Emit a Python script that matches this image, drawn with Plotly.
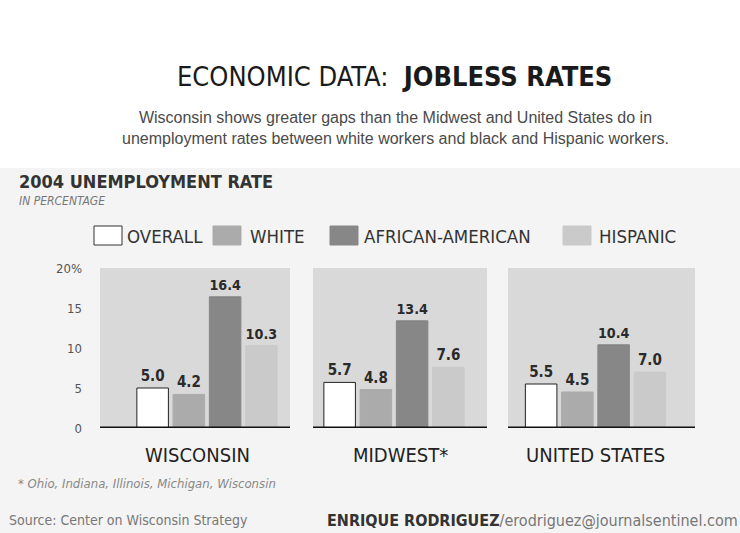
import plotly.graph_objects as go
from plotly.subplots import make_subplots

# ---- data ----
regions = ["WISCONSIN", "MIDWEST*", "UNITED STATES"]
series_names = ["OVERALL", "WHITE", "AFRICAN-AMERICAN", "HISPANIC"]
overall = [5.0, 5.7, 5.5]
white = [4.2, 4.8, 4.5]
african_american = [16.4, 13.4, 10.4]
hispanic = [10.3, 7.6, 7.0]
y_ticks = [0, 5, 10, 15, 20]
y_ticktext = ["0", "5", "10", "15", "20%"]

series_values = [overall, white, african_american, hispanic]
series_colors = ["#ffffff", "#ababab", "#878787", "#cacaca"]
series_lines = ["#222222", "#ababab", "#878787", "#cacaca"]

W, H = 740, 533
COND = "DejaVu Sans Condensed, Roboto, sans-serif"
SANS = "Liberation Sans, Arial, sans-serif"

def px(x):
    return x / W

def py(y):
    return 1 - y / H

# panel pixel extents, bar-group centre offsets and label centres (px)
panels_px = [(100, 290), (313, 487), (508, 695)]
group_shift_px = [12, -6, -6]
label_center_px = [197, 400, 595]
ref_w = 190.0

fig = make_subplots(rows=1, cols=3, shared_yaxes=True)

for ci, region in enumerate(regions):
    for si, name in enumerate(series_names):
        v = series_values[si][ci]
        fig.add_trace(
            go.Bar(
                x=[region], y=[v], name=name,
                marker=dict(color=series_colors[si],
                            line=dict(color=series_lines[si], width=1)),
                text=[f"<b>{v:.1f}</b>"], textposition="outside",
                textfont=dict(family=COND, size=15, color="#2a2a2a"),
                cliponaxis=False, showlegend=False,
            ),
            row=1, col=ci + 1,
        )

shapes = []
shapes.append(dict(type="rect", xref="paper", yref="paper", x0=0, x1=1,
                   y0=0, y1=py(168), fillcolor="#f4f4f4", line_width=0, layer="below"))

annotations = []
ydom = [py(428), py(268)]
for i, (a, b) in enumerate(panels_px):
    xa = "xaxis" if i == 0 else f"xaxis{i+1}"
    half = (b - a) / ref_w / 2
    s = group_shift_px[i] / ref_w
    fig.layout[xa].update(
        domain=[px(a), px(b)], range=[-half - s, half - s], showgrid=False,
        showline=False, zeroline=False, ticks="", showticklabels=False,
        automargin=False,
    )
    xr = "x" if i == 0 else f"x{i+1}"
    shapes.append(dict(type="rect", xref=f"{xr} domain", yref="y", x0=0, x1=1,
                       y0=0, y1=20, fillcolor="#d9d9d9", line_width=0, layer="below"))
    shapes.append(dict(type="line", xref=f"{xr} domain", yref="y", x0=0, x1=1,
                       y0=0, y1=0, line=dict(color="#111111", width=3), layer="above"))
    annotations.append(dict(xref="paper", yref="paper", x=px(label_center_px[i]), y=py(455),
                            text=regions[i], showarrow=False,
                            font=dict(family=COND, size=20, color="#222222"),
                            xanchor="center", yanchor="middle"))

fig.update_yaxes(range=[0, 20], domain=ydom, tickvals=y_ticks, ticktext=y_ticktext,
                 showgrid=False, zeroline=False, showline=False, automargin=False,
                 tickfont=dict(family=COND, size=13, color="#555555"),
                 ticklabelstandoff=17)

# title and subtitle
annotations.append(dict(xref="paper", yref="paper", x=px(394), y=py(77),
                        text="ECONOMIC DATA:  <b>JOBLESS RATES</b>", showarrow=False,
                        font=dict(family=COND, size=27, color="#1a1a1a"),
                        xanchor="center", yanchor="middle"))
annotations.append(dict(xref="paper", yref="paper", x=px(395), y=py(128),
                        text="Wisconsin shows greater gaps than the Midwest and United States do in<br>"
                             "unemployment rates between white workers and black and Hispanic workers.",
                        showarrow=False, align="center",
                        font=dict(family=SANS, size=16, color="#4a4a4a"),
                        xanchor="center", yanchor="middle"))
annotations.append(dict(xref="paper", yref="paper", x=px(17), y=py(181),
                        text="<b>2004 UNEMPLOYMENT RATE</b>", showarrow=False,
                        font=dict(family=COND, size=18, color="#333333"),
                        xanchor="left", yanchor="middle"))
annotations.append(dict(xref="paper", yref="paper", x=px(17), y=py(201),
                        text="<i>IN PERCENTAGE</i>", showarrow=False,
                        font=dict(family=COND, size=12, color="#777777"),
                        xanchor="left", yanchor="middle"))

# legend (boxes + labels)
legend_px = [(94, 125), (213, 248), (330, 362), (563, 597)]
for si, name in enumerate(series_names):
    bx, tx = legend_px[si]
    shapes.append(dict(type="rect", xref="paper", yref="paper",
                       x0=px(bx), x1=px(bx + 28), y0=py(245), y1=py(226),
                       fillcolor=series_colors[si],
                       line=dict(color="#333333" if si == 0 else series_colors[si], width=1)))
    annotations.append(dict(xref="paper", yref="paper", x=px(tx), y=py(236),
                            text=name, showarrow=False,
                            font=dict(family=COND, size=18.5, color="#333333"),
                            xanchor="left", yanchor="middle"))

annotations.append(dict(xref="paper", yref="paper", x=px(16), y=py(483),
                        text="<i>* Ohio, Indiana, Illinois, Michigan, Wisconsin</i>", showarrow=False,
                        font=dict(family=COND, size=13, color="#888888"),
                        xanchor="left", yanchor="middle"))
annotations.append(dict(xref="paper", yref="paper", x=px(7), y=py(520),
                        text="Source: Center on Wisconsin Strategy", showarrow=False,
                        font=dict(family=COND, size=14, color="#777777"),
                        xanchor="left", yanchor="middle"))
annotations.append(dict(xref="paper", yref="paper", x=px(325), y=py(520),
                        text="<b><span style='color:#333333'>ENRIQUE RODRIGUEZ</span></b>/erodriguez@journalsentinel.com",
                        showarrow=False,
                        font=dict(family=COND, size=16, color="#777777"),
                        xanchor="left", yanchor="middle"))

fig.update_layout(
    width=W, height=H, margin=dict(l=0, r=0, t=0, b=0, autoexpand=False),
    paper_bgcolor="#ffffff", plot_bgcolor="rgba(0,0,0,0)",
    barmode="group", bargap=0.237, bargroupgap=0.13,
    shapes=shapes, annotations=annotations, showlegend=False,
)

fig.write_html("out.html")
